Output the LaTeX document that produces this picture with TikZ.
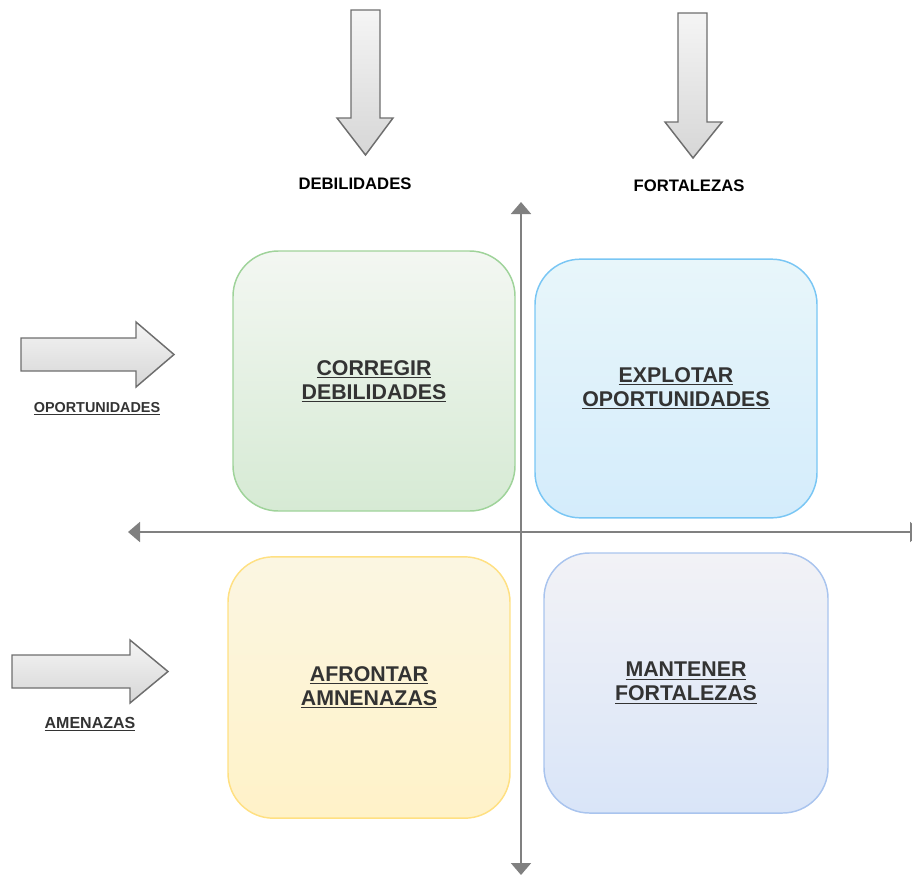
\documentclass[tikz,border=0pt]{standalone}
\usepackage{fontspec}
\setmainfont{Liberation Sans}
\usetikzlibrary{arrows.meta}
\definecolor{axisgray}{HTML}{808080}
\definecolor{arrowedge}{HTML}{6E6E6E}
\definecolor{txtdark}{HTML}{333333}
\definecolor{gEdge}{HTML}{9FD39A}
\definecolor{gTop}{HTML}{F3F7F2}
\definecolor{gBot}{HTML}{D6EAD4}
\definecolor{bEdge}{HTML}{79C6F4}
\definecolor{bTop}{HTML}{E8F6FA}
\definecolor{bBot}{HTML}{D4ECFB}
\definecolor{yEdge}{HTML}{FFE082}
\definecolor{yTop}{HTML}{FBF6E2}
\definecolor{yBot}{HTML}{FFF2C8}
\definecolor{pEdge}{HTML}{A9C4EE}
\definecolor{pTop}{HTML}{F2F2F6}
\definecolor{pBot}{HTML}{D9E5F8}
\begin{document}
\begin{tikzpicture}[x=0.75pt,y=-0.75pt,
  quad/.style={draw, line width=1.1pt, rounded corners=34pt, inner sep=0pt,
    minimum width=211.5pt, minimum height=195pt, text=txtdark, align=center,
    font=\fontsize{16}{18}\selectfont\bfseries},
  fatarrow/.style={draw=arrowedge, line width=1.1pt, top color=white!96!black, bottom color=white!84!black},
  axis/.style={draw=axisgray, line width=1.5pt, {Triangle[width=15pt,length=9pt]}-{Triangle[width=15pt,length=9pt]}},
  toplabel/.style={font=\fontsize{12.5}{14}\selectfont\bfseries, text=black},
  sidelabel/.style={text=txtdark}
]
\useasboundingbox (0,0) rectangle (912,875);

% quadrant boxes
\node[quad, draw=gEdge, top color=gTop, bottom color=gBot] (corregir) at (374,381)
  {\underline{CORREGIR}\\\underline{DEBILIDADES}};
\node[quad, draw=bEdge, top color=bTop, bottom color=bBot, minimum height=194pt] (explotar) at (676,388.5)
  {\underline{EXPLOTAR}\\\underline{OPORTUNIDADES}};
\node[quad, draw=yEdge, top color=yTop, bottom color=yBot, minimum height=196pt] (afrontar) at (369,687.5)
  {\underline{AFRONTAR}\\\underline{AMNENAZAS}};
\node[quad, draw=pEdge, top color=pTop, bottom color=pBot, minimum width=213pt] (mantener) at (686,683)
  {\underline{MANTENER}\\\underline{FORTALEZAS}};

% axes
\coordinate (vtop) at (521,202);
\coordinate (vbot) at (521,875);
\coordinate (hleft) at (128,532);
\coordinate (hright) at (922,532);
\draw[axis] (vbot) -- (vtop);
\draw[axis] (hleft) -- (hright);

% fat arrows
\path[fatarrow] (351,10) -- (380,10) -- (380,118) -- (393,118) -- (365.5,155) -- (337,118) -- (351,118) -- cycle;
\path[fatarrow] (678,13) -- (707,13) -- (707,122) -- (722,122) -- (693,158) -- (665,122) -- (678,122) -- cycle;
\path[fatarrow] (21,338) -- (136,338) -- (136,322) -- (174,354.5) -- (136,387) -- (136,371) -- (21,371) -- cycle;
\path[fatarrow] (12,655) -- (130,655) -- (130,640) -- (168,671.5) -- (130,703) -- (130,688) -- (12,688) -- cycle;

% labels
\node[toplabel] (debil) at (355,184) {DEBILIDADES};
\node[toplabel] (fortal) at (689,186) {FORTALEZAS};
\node[sidelabel, font=\fontsize{10.8}{12}\selectfont\bfseries] (oport) at (97,409) {\underline{OPORTUNIDADES}};
\node[sidelabel, font=\fontsize{12}{13}\selectfont\bfseries] (amen) at (90,724) {\underline{AMENAZAS}};
\end{tikzpicture}
\end{document}
